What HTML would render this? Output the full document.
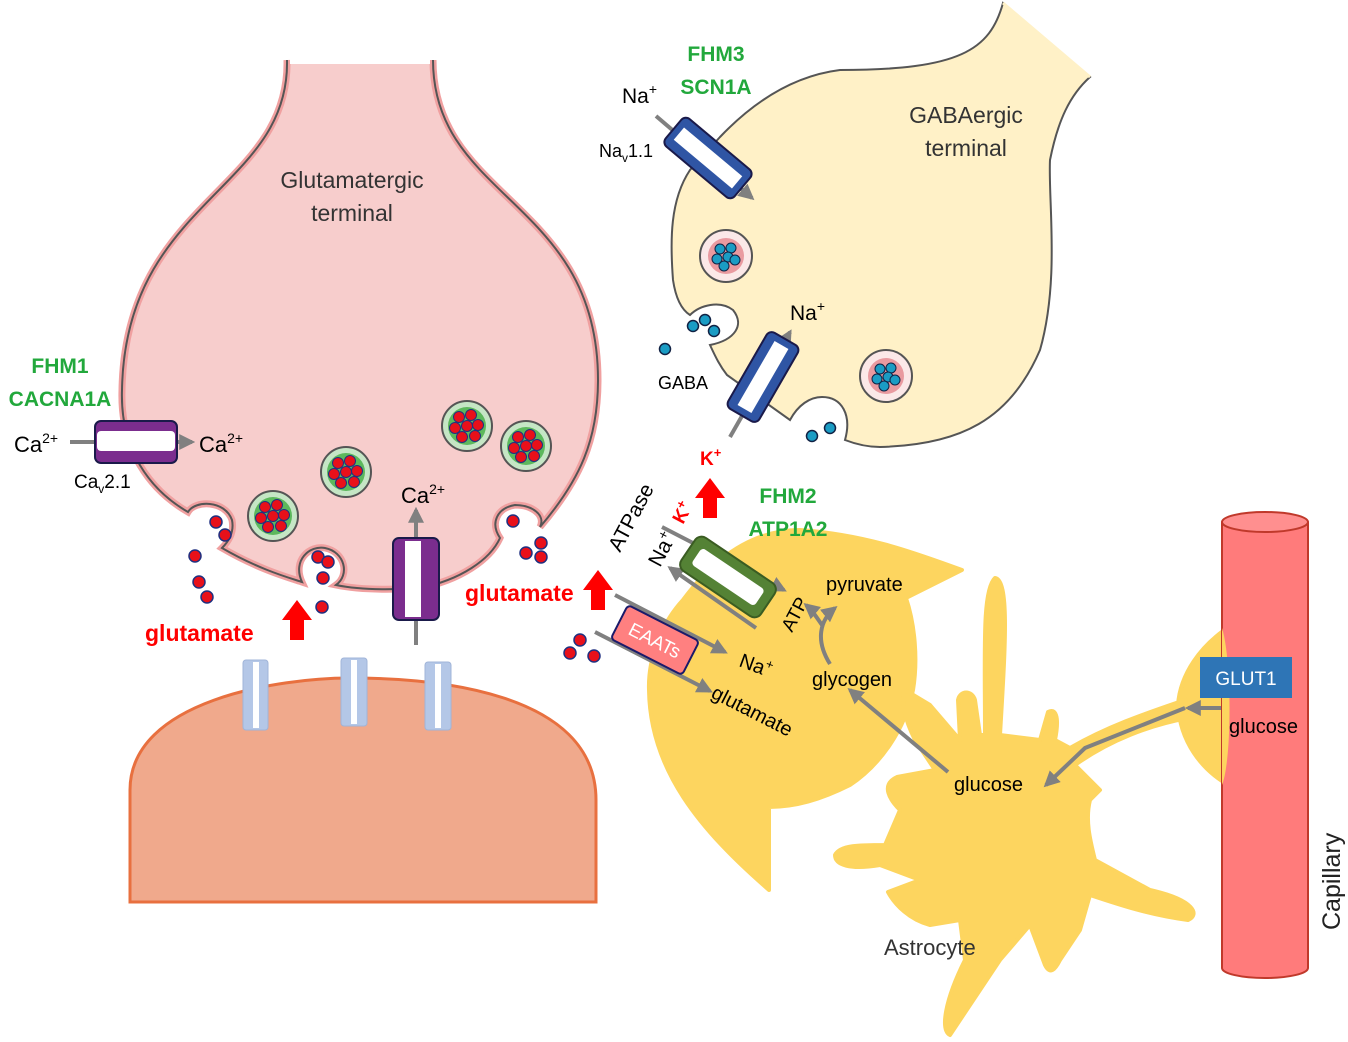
<!DOCTYPE html>
<html><head><meta charset="utf-8"><style>body{margin:0;background:#fff}svg{display:block}text{font-family:"Liberation Sans",sans-serif}</style></head><body>
<svg width="1348" height="1042" viewBox="0 0 1348 1042" xmlns="http://www.w3.org/2000/svg">
<defs>
<marker id="ah" viewBox="0 0 10 10" refX="8" refY="5" markerWidth="4" markerHeight="4" orient="auto"><path d="M0,0L10,5L0,10z" fill="#808080"/></marker>
<g id="ves"><circle r="25" fill="#c5e6c5" stroke="#555" stroke-width="2"/><circle r="19" fill="#5cb85c"/>
<g fill="#e8101a" stroke="#203080" stroke-width="1"><circle cx="-8" cy="-9" r="5.5"/><circle cx="4" cy="-11" r="5.5"/><circle cx="-12" cy="2" r="5.5"/><circle cx="0" cy="0" r="5.5"/><circle cx="11" cy="-1" r="5.5"/><circle cx="-5" cy="11" r="5.5"/><circle cx="8" cy="10" r="5.5"/></g></g>
<g id="gves"><circle r="26" fill="#fbe8e8" stroke="#555" stroke-width="2"/><circle r="18" fill="#e99aa0"/>
<g fill="#1a9cc4" stroke="#124" stroke-width="1"><circle cx="-6" cy="-7" r="5"/><circle cx="5" cy="-8" r="5"/><circle cx="-9" cy="3" r="5"/><circle cx="2" cy="1" r="5"/><circle cx="9" cy="4" r="5"/><circle cx="-2" cy="10" r="5"/></g></g>
<g id="rd"><circle r="6" fill="#e8101a" stroke="#203080" stroke-width="1.5"/></g>
<g id="bd"><circle r="5.5" fill="#1a9cc4" stroke="#124" stroke-width="1.5"/></g>
<path id="rarr" d="M-7,20 L-7,0 L-15,0 L0,-20 L15,0 L7,0 L7,20Z" fill="#ff0000"/>
</defs>

<!-- postsynaptic -->
<path d="M130,902 L130,790 C130,700 280,678 350,678 C430,678 596,690 596,800 L596,902 Z" fill="#f0a98c" stroke="#e8703f" stroke-width="3"/>
<g fill="#b4c7e7" stroke="#a0b4d8"><rect x="243" y="660" width="25" height="70" rx="3"/><rect x="341" y="658" width="26" height="68" rx="3"/><rect x="425" y="662" width="26" height="68" rx="3"/></g>
<g fill="#fff"><rect x="253" y="662" width="6" height="66"/><rect x="351" y="660" width="6" height="64"/><rect x="435" y="664" width="6" height="64"/></g>

<!-- glutamatergic -->
<path id="gp" d="M287,60 C290,190 125,200 122,390 C120,450 150,490 188,512 C195,500 225,500 232,520 C235,535 225,545 222,548 C260,570 290,578 302,582 C292,560 310,545 325,548 C345,552 350,575 336,585 C360,590 390,590 420,588 C460,580 490,560 500,538 C490,523 497,508 515,505 C532,505 546,515 540,527 C580,480 598,440 598,380 C598,200 433,200 433,60" fill="#f7cdcc" stroke="#f0a0a0" stroke-width="7"/>
<path d="M287,60 C290,190 125,200 122,390 C120,450 150,490 188,512 C195,500 225,500 232,520 C235,535 225,545 222,548 C260,570 290,578 302,582 C292,560 310,545 325,548 C345,552 350,575 336,585 C360,590 390,590 420,588 C460,580 490,560 500,538 C490,523 497,508 515,505 C532,505 546,515 540,527 C580,480 598,440 598,380 C598,200 433,200 433,60" fill="none" stroke="#555" stroke-width="2"/>
<rect x="290" y="56" width="140" height="8" fill="#fff"/>
<use href="#ves" x="273" y="516"/><use href="#ves" x="346" y="472"/><use href="#ves" x="467" y="426"/><use href="#ves" x="526" y="446"/>
<use href="#rd" x="216" y="522"/><use href="#rd" x="225" y="535"/><use href="#rd" x="195" y="556"/><use href="#rd" x="199" y="582"/><use href="#rd" x="207" y="597"/>
<use href="#rd" x="318" y="557"/><use href="#rd" x="328" y="562"/><use href="#rd" x="323" y="578"/><use href="#rd" x="322" y="607"/>
<use href="#rd" x="513" y="521"/><use href="#rd" x="541" y="543"/><use href="#rd" x="526" y="553"/><use href="#rd" x="541" y="557"/>
<use href="#rd" x="570" y="653"/><use href="#rd" x="580" y="640"/><use href="#rd" x="594" y="656"/>

<line x1="70" y1="442" x2="192" y2="442" stroke="#808080" stroke-width="4" marker-end="url(#ah)"/>
<rect x="95" y="421" width="82" height="42" rx="6" fill="#7b2d8e" stroke="#1a1a4a" stroke-width="2"/>
<rect x="97" y="431" width="78" height="20" rx="4" fill="#fff"/>
<line x1="416" y1="645" x2="416" y2="510" stroke="#808080" stroke-width="4" marker-end="url(#ah)"/>
<rect x="393" y="538" width="46" height="82" rx="6" fill="#7b2d8e" stroke="#1a1a4a" stroke-width="2"/>
<rect x="405" y="541" width="16" height="76" fill="#fff"/>

<text x="352" y="188" font-size="23" text-anchor="middle" fill="#333">Glutamatergic</text>
<text x="352" y="221" font-size="23" text-anchor="middle" fill="#333">terminal</text>
<text x="60" y="373" font-size="21" font-weight="bold" text-anchor="middle" fill="#22a83c">FHM1</text>
<text x="60" y="406" font-size="21" font-weight="bold" text-anchor="middle" fill="#22a83c">CACNA1A</text>
<text x="14" y="452" font-size="22">Ca<tspan font-size="14" dy="-9">2+</tspan></text>
<text x="199" y="452" font-size="22">Ca<tspan font-size="14" dy="-9">2+</tspan></text>
<text x="74" y="488" font-size="19">Ca<tspan font-size="12" dy="5">v</tspan><tspan dy="-5">2.1</tspan></text>
<text x="401" y="503" font-size="22">Ca<tspan font-size="14" dy="-9">2+</tspan></text>
<text x="145" y="641" font-size="23" font-weight="bold" fill="#ff0000">glutamate</text>
<use href="#rarr" x="297" y="620"/>

<!-- GABAergic -->
<path d="M1003,3 C990,50 960,70 840,70 C800,75 760,95 720,137 L690,170 C670,200 670,240 673,280 C676,300 682,310 690,315 C700,305 720,300 733,310 C745,325 735,340 710,345 C716,358 720,366 727,375 L790,420 C798,405 810,397 822,397 C842,397 852,415 845,440 C858,445 868,447 880,447 C960,445 1010,420 1040,350 C1060,280 1048,200 1050,160 C1058,120 1070,95 1090,77 Z" fill="#fff1c7" stroke="#555" stroke-width="2"/>
<line x1="1003" y1="3" x2="1090" y2="77" stroke="#fff1c7" stroke-width="3"/>
<use href="#gves" x="726" y="256"/><use href="#gves" x="886" y="376"/>
<use href="#bd" x="693" y="326"/><use href="#bd" x="705" y="320"/><use href="#bd" x="714" y="331"/><use href="#bd" x="665" y="349"/>
<use href="#bd" x="812" y="436"/><use href="#bd" x="830" y="428"/>
<line x1="656" y1="116" x2="752" y2="198" stroke="#808080" stroke-width="4" marker-end="url(#ah)"/>
<g transform="translate(708,158) rotate(40)"><rect x="-45" y="-18" width="90" height="36" rx="6" fill="#2f55a4" stroke="#1a1a4a" stroke-width="2"/><rect x="-38" y="-8" width="76" height="16" fill="#fff"/></g>
<line x1="730" y1="437" x2="790" y2="332" stroke="#808080" stroke-width="4" marker-end="url(#ah)"/>
<g transform="translate(763,377) rotate(-60)"><rect x="-44" y="-18" width="88" height="36" rx="6" fill="#2f55a4" stroke="#1a1a4a" stroke-width="2"/><rect x="-37" y="-8" width="74" height="16" fill="#fff"/></g>
<text x="966" y="123" font-size="23" text-anchor="middle" fill="#333">GABAergic</text>
<text x="966" y="156" font-size="23" text-anchor="middle" fill="#333">terminal</text>
<text x="716" y="61" font-size="21" font-weight="bold" text-anchor="middle" fill="#22a83c">FHM3</text>
<text x="716" y="94" font-size="21" font-weight="bold" text-anchor="middle" fill="#22a83c">SCN1A</text>
<text x="622" y="103" font-size="21">Na<tspan font-size="14" dy="-9">+</tspan></text>
<text x="599" y="157" font-size="18">Na<tspan font-size="12" dy="5">v</tspan><tspan dy="-5">1.1</tspan></text>
<text x="790" y="320" font-size="21">Na<tspan font-size="14" dy="-9">+</tspan></text>
<text x="658" y="389" font-size="18">GABA</text>
<text x="700" y="465" font-size="19" font-weight="bold" fill="#ff0000">K<tspan font-size="13" dy="-8">+</tspan></text>
<use href="#rarr" x="710" y="498"/>

<!-- Astrocyte -->
<g fill="#fdd55f" stroke="#fdd55f" stroke-width="4" stroke-linejoin="round">
<path d="M1232,625 C1200,645 1180,675 1178,705 C1180,740 1200,770 1232,787 Z"/>
<path d="M683,600 C720,550 760,530 800,530 C870,535 920,555 962,570 L906,598 C915,625 918,660 913,690 C905,730 880,765 850,785 C820,800 795,807 769,807 L769,890 C700,830 650,770 649,690 C648,660 660,625 683,600Z"/>
<path d="M995,578 C1010,580 1005,650 1000,735 L1040,740 L1048,712 C1055,708 1060,715 1055,740 L1070,748 C1110,725 1150,712 1185,700 L1188,718 C1150,725 1110,740 1075,765 L1100,790 L1090,800 C1085,820 1090,840 1095,860 L1150,890 C1195,900 1200,915 1188,920 C1150,915 1120,905 1090,895 L1080,930 L1060,960 C1055,970 1050,975 1045,965 L1030,925 L1000,960 C980,990 960,1020 950,1035 C940,1030 945,1000 965,960 L960,920 L930,925 C910,920 895,905 888,892 L920,880 L880,865 C850,870 835,865 835,855 C840,845 860,845 885,845 L900,810 C890,800 880,785 897,777 L935,770 L915,740 C905,720 900,700 905,690 L930,705 L960,740 L958,700 C960,690 972,690 975,700 L980,735 L985,735 C985,650 982,590 995,578 Z"/>
</g>
<g stroke="#808080" stroke-width="4" fill="none">
<line x1="1222" y1="708" x2="1188" y2="708" marker-end="url(#ah)"/>
<polyline points="1185,708 1085,748 1046,785" marker-end="url(#ah)"/>
<line x1="948" y1="772" x2="850" y2="690" marker-end="url(#ah)"/>
<path d="M830,664 C815,640 820,620 835,608" marker-end="url(#ah)"/>
<path d="M822,625 C815,615 812,610 806,605" marker-end="url(#ah)"/>
<line x1="662" y1="527" x2="784" y2="590" marker-end="url(#ah)"/>
<line x1="756" y1="628" x2="670" y2="568" marker-end="url(#ah)"/>
<line x1="615" y1="595" x2="725" y2="652" marker-end="url(#ah)"/>
<line x1="595" y1="632" x2="710" y2="691" marker-end="url(#ah)"/>
</g>
<g transform="translate(728,577) rotate(34)"><rect x="-48" y="-20" width="96" height="40" rx="8" fill="#548235" stroke="#3a5c22" stroke-width="2"/><rect x="-38" y="-10" width="76" height="20" rx="4" fill="#fff"/></g>
<g transform="translate(655,640) rotate(27)"><rect x="-40" y="-19" width="80" height="38" rx="4" fill="#ff8080" stroke="#1a1a6a" stroke-width="2"/><text x="0" y="7" font-size="19" text-anchor="middle" fill="#fff">EAATs</text></g>
<text x="465" y="601" font-size="23" font-weight="bold" fill="#ff0000">glutamate</text>
<use href="#rarr" x="598" y="590"/>
<text x="788" y="503" font-size="21" font-weight="bold" text-anchor="middle" fill="#22a83c">FHM2</text>
<text x="788" y="536" font-size="21" font-weight="bold" text-anchor="middle" fill="#22a83c">ATP1A2</text>
<text transform="translate(620,553) rotate(-62)" font-size="21">ATPase</text>
<text transform="translate(660,568) rotate(-62)" font-size="21">Na<tspan font-size="14" dy="-8">+</tspan></text>
<text transform="translate(683,525) rotate(-62)" font-size="19" font-weight="bold" fill="#ff0000">K<tspan font-size="13" dy="-7">+</tspan></text>
<text transform="translate(792,633) rotate(-62)" font-size="19">ATP</text>
<text x="826" y="591" font-size="20">pyruvate</text>
<text x="812" y="686" font-size="20">glycogen</text>
<text transform="translate(738,666) rotate(20)" font-size="20">Na<tspan font-size="13" dy="-8">+</tspan></text>
<text transform="translate(710,697) rotate(27)" font-size="20">glutamate</text>
<text x="954" y="791" font-size="20">glucose</text>
<text x="884" y="955" font-size="22" fill="#333">Astrocyte</text>

<!-- capillary -->
<path d="M1222,522 L1222,968 A43,10 0 0 0 1308,968 L1308,522" fill="#ff7b7b" stroke="#c0392b" stroke-width="2"/>
<ellipse cx="1265" cy="522" rx="43" ry="10" fill="#ff8f8f" stroke="#c0392b" stroke-width="2"/>
<path d="M1222,628 C1232,660 1232,760 1222,785 L1222,628Z" fill="#fdd55f"/>
<rect x="1200" y="657" width="92" height="41" fill="#2e75b6"/>
<text x="1246" y="685" font-size="19" text-anchor="middle" fill="#fff">GLUT1</text>
<text x="1229" y="733" font-size="20">glucose</text>
<text transform="translate(1340,930) rotate(-90)" font-size="25" fill="#222">Capillary</text>
</svg>
</body></html>
